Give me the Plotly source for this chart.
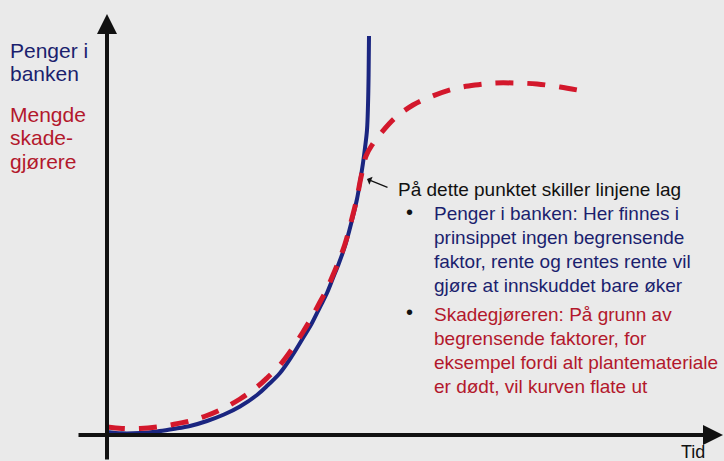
import plotly.graph_objects as go

W, H = 724, 461

# Curves (pixel-space coordinates of the sketch, y measured from the top)
bank_x = [107, 122, 140, 157, 173, 190, 207, 224, 240, 257, 268, 280, 292, 303, 312, 320, 327, 333, 339, 345, 351, 357, 360, 363, 365, 367, 368, 368.6, 369]
bank_y = [432, 433.3, 433, 431.5, 429, 426, 421, 414.5, 406.5, 395, 385, 373, 356, 338, 323, 307, 293, 278, 263, 246, 224, 199, 182, 163, 148, 130, 105, 75, 36]

pest_x = [107, 122, 140, 157, 173, 190, 207, 224, 240, 257, 268, 280, 292, 303, 312, 320, 327, 333, 339, 345, 351, 357, 360, 363, 366, 372, 382, 395, 413, 430, 453, 475, 495, 515, 537, 560, 588]
pest_y = [427, 428.5, 428.5, 427, 424.5, 421, 415.5, 408, 399, 387, 377, 365, 349, 332, 317, 302, 289, 275, 260.5, 244, 222, 198, 182, 168, 156, 145, 132, 118, 105, 97, 89, 85, 83, 83, 84, 87, 92]

y_label_bank = ["Penger i", "banken"]
y_label_pest = ["Mengde", "skade-", "gjørere"]
x_label = "Tid"
note_title = "På dette punktet skiller linjene lag"
bullet_bank = ["Penger i banken: Her finnes i", "prinsippet ingen begrensende",
               "faktor, rente og rentes rente vil", "gjøre at innskuddet bare øker"]
bullet_pest = ["Skadegjøreren: På grunn av", "begrensende faktorer, for",
               "eksempel fordi alt plantemateriale", "er dødt, vil kurven flate ut"]

NAVY = "#1b1f6e"
BLUE_LINE = "#1a2580"
RED_LINE = "#d3182c"
RED_TXT = "#b3182c"
FONT = "Liberation Sans, Arial, sans-serif"

def fy(v):
    return H - v

fig = go.Figure()
fig.add_trace(go.Scatter(x=bank_x, y=[fy(v) for v in bank_y], mode="lines",
                         line=dict(color=BLUE_LINE, width=4, shape="spline", smoothing=1.0),
                         hoverinfo="skip", showlegend=False))
fig.add_trace(go.Scatter(x=pest_x, y=[fy(v) for v in pest_y], mode="lines",
                         line=dict(color=RED_LINE, width=5, shape="spline", smoothing=1.0, dash="18px,14px"),
                         hoverinfo="skip", showlegend=False))

ann = []
# axes with arrowheads
ann.append(dict(x=107, y=fy(14), ax=107, ay=fy(461), xref="x", yref="y", axref="x", ayref="y",
                text="", showarrow=True, arrowhead=2, arrowsize=1.0, arrowwidth=4, arrowcolor="#111111"))
ann.append(dict(x=723, y=fy(435), ax=77, ay=fy(435), xref="x", yref="y", axref="x", ayref="y",
                text="", showarrow=True, arrowhead=2, arrowsize=1.0, arrowwidth=4, arrowcolor="#111111"))
# small pointer arrow
ann.append(dict(x=367, y=fy(179), ax=389, ay=fy(188), xref="x", yref="y", axref="x", ayref="y",
                text="", showarrow=True, arrowhead=1, arrowsize=1.2, arrowwidth=1.2, arrowcolor="#111111"))

def txt(x, y, s, color, size=19):
    ann.append(dict(x=x, y=fy(y), xref="x", yref="y", text=s, showarrow=False,
                    xanchor="left", yanchor="middle", font=dict(family=FONT, size=size, color=color)))

for i, s in enumerate(y_label_bank):
    txt(8, 50 + i * 23, s, NAVY, 21)
for i, s in enumerate(y_label_pest):
    txt(8, 114 + i * 23.5, s, RED_TXT, 21)

txt(679, 452, x_label, "#111111", 18)
txt(396, 189, note_title, "#111111", 19)
txt(404, 212, "•", "#111111", 20)
for i, s in enumerate(bullet_bank):
    txt(432, 213 + i * 24, s, NAVY, 19)
txt(404, 312, "•", "#111111", 20)
for i, s in enumerate(bullet_pest):
    txt(432, 314 + i * 24, s, RED_TXT, 19)

fig.update_layout(
    width=W, height=H, margin=dict(l=0, r=0, t=0, b=0),
    paper_bgcolor="#eaeaea", plot_bgcolor="#eaeaea",
    xaxis=dict(range=[0, W], visible=False, fixedrange=True),
    yaxis=dict(range=[0, H], visible=False, fixedrange=True),
    annotations=ann,
)
fig.write_html("out.html", config={"displayModeBar": False},
               post_script="document.body.style.margin='0';")
